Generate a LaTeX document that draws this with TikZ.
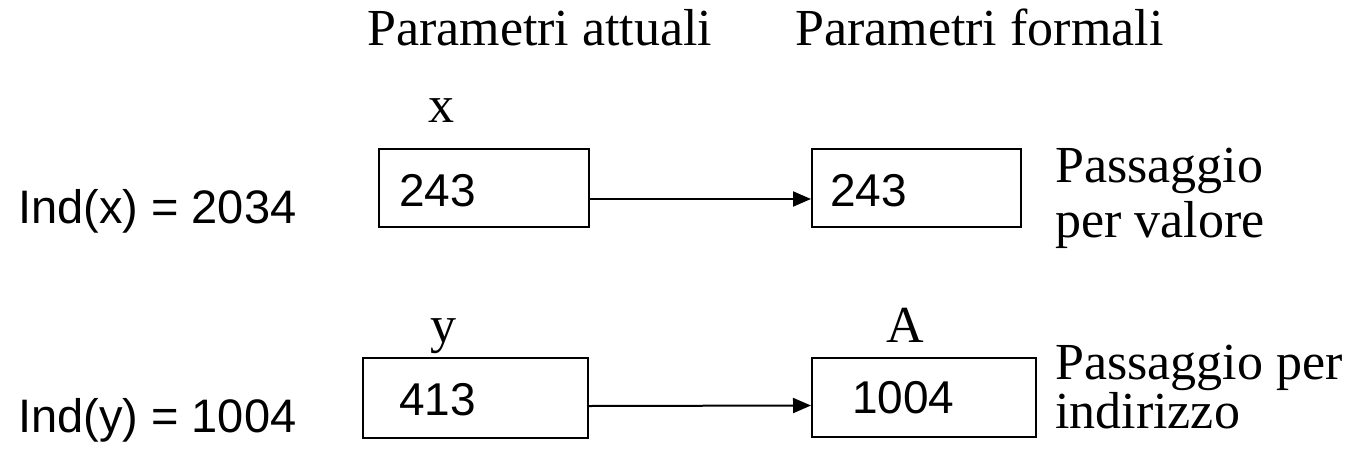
\documentclass[tikz,border=0pt]{standalone}
\usepackage{fontspec}
\setmainfont{Liberation Serif}
\newfontfamily\arial{Liberation Sans}
\usetikzlibrary{arrows.meta}
\tikzset{
  serif/.style={inner sep=0pt, anchor=base west, font=\fontsize{52}{60}\selectfont},
  note/.style={inner sep=0pt, anchor=base west, align=left},
  addr/.style={inner sep=0pt, anchor=base west, font=\arial\fontsize{47}{56}\selectfont},
  val/.style={inner sep=0pt, anchor=base west, font=\arial\fontsize{46}{54}\selectfont},
  cell/.style={draw, line width=2pt, inner sep=0pt, rectangle},
  link/.style={line width=2pt, -{Triangle[length=18pt,width=15pt]}}
}
\begin{document}
\begin{tikzpicture}[x=1pt,y=-1pt]
\useasboundingbox (0,0) rectangle (1357,458);
% column headings
\node[serif] (hact) at (367,45) {Parametri attuali};
\node[serif] (hform) at (795,45) {Parametri formali};
% variable names
\node[serif, anchor=base] (nx) at (441,122) {x};
\node[serif, anchor=base] (ny) at (443,342) {y};
\node[serif, anchor=base] (nA) at (905,342) {A};
% addresses
\node[addr] (ix) at (18,223) {Ind(x) = 2034};
\node[addr] (iy) at (18,432) {Ind(y) = 1004};
% memory cells
\node[cell, minimum width=210, minimum height=78] (b1) at (484,188) {};
\node[cell, minimum width=209, minimum height=78] (b2) at (916.5,188) {};
\node[cell, minimum width=225, minimum height=80] (b3) at (475.5,398) {};
\node[cell, minimum width=224, minimum height=79] (b4) at (924,397.5) {};
% cell contents
\node[val] (v1) at (399,206) {243};
\node[val] (v2) at (830,206) {243};
\node[val] (v3) at (399,415) {413};
\node[val] (v4) at (852,413) {1004};
% copies
\draw[link] ([yshift=-11pt]b1.east) -- ([yshift=-11pt]b2.west);
\draw[link] ([yshift=-8pt]b3.east) -- ([yshift=-8pt]b4.west);
% kinds of passing (anchored on the baseline of the last line)
\node[note, font=\fontsize{52}{55}\selectfont] (pv) at (1055,237) {Passaggio\\per valore};
\node[note, font=\fontsize{52}{46}\selectfont] (pi) at (1055,428) {Passaggio per\\indirizzo};
\end{tikzpicture}
\end{document}
